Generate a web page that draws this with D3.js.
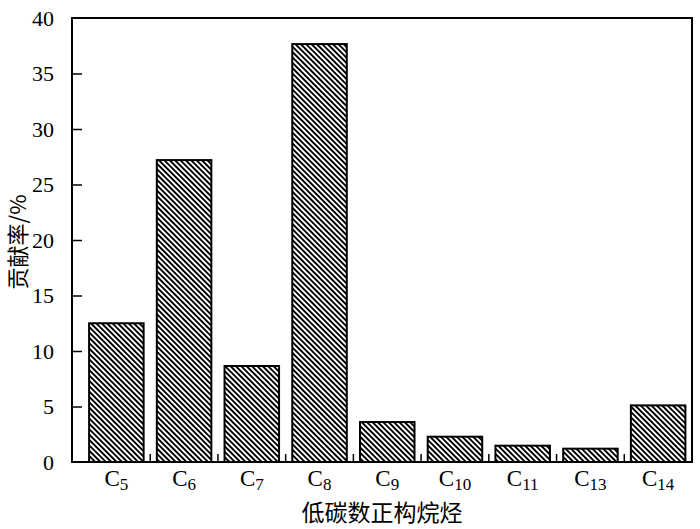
<!DOCTYPE html>
<html>
<head>
<meta charset="utf-8">
<script src="https://cdn.jsdelivr.net/npm/d3@7/dist/d3.min.js"></script>
<style>
  html, body { margin: 0; padding: 0; background: #fff; }
  svg { display: block; }
</style>
</head>
<body>
<script>
const categories = ["5", "6", "7", "8", "9", "10", "11", "13", "14"];
const values = [12.5, 27.2, 8.65, 37.65, 3.6, 2.28, 1.47, 1.2, 5.1];
const yTicks = [0, 5, 10, 15, 20, 25, 30, 35, 40];
const xTitle = "低碳数正构烷烃";
const yTitle = "贡献率/%";

(function () {
const W = 700, H = 529;
const mLeft = 72, mRight = 692, mTop = 18, mBottom = 462;
const serif = "'Liberation Serif', 'Times New Roman', serif";
const cjk = "'Noto Sans CJK SC', sans-serif";

const svg = d3.select("body").append("svg").attr("width", W).attr("height", H);

const defs = svg.append("defs");
const pat = defs.append("pattern")
  .attr("id", "hatch")
  .attr("patternUnits", "userSpaceOnUse")
  .attr("width", 8).attr("height", 3.8)
  .attr("patternTransform", "rotate(45)");
pat.append("rect").attr("width", 8).attr("height", 3.8).attr("fill", "#fff");
pat.append("rect").attr("width", 8).attr("height", 1.9).attr("fill", "#000");

const x = d3.scaleBand()
  .domain(categories)
  .range([82.5, mRight])
  .paddingInner(0.195)
  .paddingOuter(0.0975);

const y = d3.scaleLinear().domain([0, 40]).range([mBottom, mTop]);

// bars
svg.append("g").selectAll("rect")
  .data(categories)
  .join("rect")
  .attr("x", (d) => x(d))
  .attr("y", (d, i) => y(values[i]))
  .attr("width", x.bandwidth())
  .attr("height", (d, i) => y(0) - y(values[i]))
  .attr("fill", "url(#hatch)")
  .attr("stroke", "#000")
  .attr("stroke-width", 2);

// frame
svg.append("rect")
  .attr("x", mLeft).attr("y", mTop)
  .attr("width", mRight - mLeft).attr("height", mBottom - mTop)
  .attr("fill", "none").attr("stroke", "#000").attr("stroke-width", 2);

// y axis
const yAxis = d3.axisLeft(y).tickValues(yTicks).tickSizeInner(-10).tickSizeOuter(0).tickPadding(18);
const gy = svg.append("g").attr("transform", `translate(${mLeft},0)`).call(yAxis);
gy.select(".domain").remove();
gy.selectAll(".tick line").attr("stroke", "#000").attr("stroke-width", 1.5)
  .filter((d) => d === 0 || d === 40).remove();
gy.selectAll(".tick text").attr("font-family", serif).attr("font-size", 22).attr("fill", "#000");

// x boundary ticks
const step = x.step();
const bounds = d3.range(1, categories.length).map((k) => 82.5 + k * step);
svg.append("g").selectAll("line")
  .data(bounds)
  .join("line")
  .attr("x1", (d) => d).attr("x2", (d) => d)
  .attr("y1", mBottom).attr("y2", mBottom - 8)
  .attr("stroke", "#000").attr("stroke-width", 1.5);

// x labels
const xl = svg.append("g").selectAll("text")
  .data(categories)
  .join("text")
  .attr("x", (d) => x(d) + x.bandwidth() / 2)
  .attr("y", 486)
  .attr("text-anchor", "middle")
  .attr("font-family", serif)
  .attr("font-size", 23)
  .attr("fill", "#000");
xl.append("tspan").text("C");
xl.append("tspan").attr("font-size", 17).attr("dy", 4).text((d) => d);

// axis titles
svg.append("text")
  .attr("x", (mLeft + mRight) / 2)
  .attr("y", 521)
  .attr("text-anchor", "middle")
  .attr("font-family", cjk)
  .attr("font-size", 23)
  .attr("fill", "#000")
  .text(xTitle);

svg.append("text")
  .attr("transform", `translate(26,242) rotate(-90)`)
  .attr("text-anchor", "middle")
  .attr("font-family", cjk)
  .attr("font-size", 22)
  .attr("fill", "#000")
  .text(yTitle);
})();
</script>
</body>
</html>
